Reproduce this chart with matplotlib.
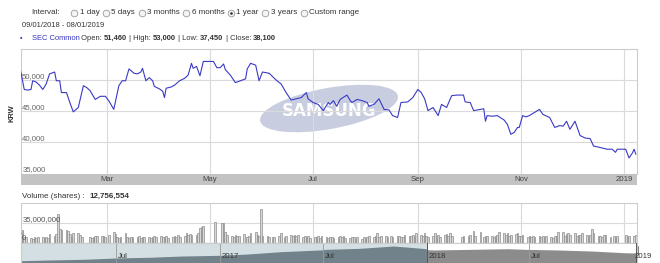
import matplotlib
matplotlib.use('Agg')
import matplotlib.pyplot as plt
import pandas as pd
import numpy as np
from matplotlib.patches import Ellipse, Rectangle

plt.rcParams['font.family'] = ['Liberation Sans', 'DejaVu Sans']

# ---------------- data ----------------
price_dates = [
    '2018-01-09', '2018-01-11', '2018-01-13', '2018-01-15', '2018-01-16', '2018-01-18', '2018-01-20',
    '2018-01-22', '2018-01-24', '2018-01-26', '2018-01-29', '2018-01-30', '2018-02-01', '2018-02-02',
    '2018-02-05', '2018-02-07', '2018-02-09', '2018-02-12', '2018-02-15', '2018-02-17', '2018-02-19',
    '2018-02-22', '2018-02-25', '2018-02-28', '2018-03-02', '2018-03-05', '2018-03-08', '2018-03-10',
    '2018-03-12', '2018-03-14', '2018-03-17', '2018-03-19', '2018-03-21', '2018-03-22', '2018-03-24',
    '2018-03-26', '2018-03-28', '2018-03-29', '2018-04-01', '2018-04-03', '2018-04-04', '2018-04-05',
    '2018-04-08', '2018-04-10', '2018-04-13', '2018-04-16', '2018-04-18', '2018-04-20', '2018-04-21',
    '2018-04-23', '2018-04-25', '2018-04-27', '2018-05-01', '2018-05-03', '2018-05-05', '2018-05-07',
    '2018-05-09', '2018-05-10', '2018-05-13', '2018-05-16', '2018-05-19', '2018-05-22', '2018-05-23',
    '2018-05-25', '2018-05-28', '2018-05-30', '2018-06-01', '2018-06-05', '2018-06-08', '2018-06-10',
    '2018-06-12', '2018-06-15', '2018-06-18', '2018-06-21', '2018-06-24', '2018-06-27', '2018-06-28',
    '2018-07-01', '2018-07-04', '2018-07-07', '2018-07-10', '2018-07-11', '2018-07-13', '2018-07-15',
    '2018-07-17', '2018-07-21', '2018-07-23', '2018-07-24', '2018-07-27', '2018-07-30', '2018-08-02',
    '2018-08-03', '2018-08-06', '2018-08-08', '2018-08-09', '2018-08-12', '2018-08-15', '2018-08-17',
    '2018-08-20', '2018-08-22', '2018-08-26', '2018-08-29', '2018-09-01', '2018-09-03', '2018-09-05',
    '2018-09-07', '2018-09-10', '2018-09-13', '2018-09-15', '2018-09-18', '2018-09-21', '2018-09-24',
    '2018-09-28', '2018-09-29', '2018-10-02', '2018-10-04', '2018-10-08', '2018-10-10', '2018-10-11',
    '2018-10-12', '2018-10-15', '2018-10-18', '2018-10-22', '2018-10-24', '2018-10-26', '2018-10-28',
    '2018-10-30', '2018-10-31', '2018-11-02', '2018-11-04', '2018-11-06', '2018-11-09', '2018-11-12',
    '2018-11-14', '2018-11-18', '2018-11-21', '2018-11-24', '2018-11-26', '2018-11-28', '2018-11-30',
    '2018-12-03', '2018-12-06', '2018-12-09', '2018-12-12', '2018-12-14', '2018-12-16', '2018-12-19',
    '2018-12-22', '2018-12-25', '2018-12-27', '2018-12-28', '2019-01-02', '2019-01-04', '2019-01-06',
    '2019-01-07', '2019-01-08']
price_values = [
    51300, 48500, 48400, 48500, 49900, 49700, 49200,
    48500, 49400, 51000, 51300, 49900, 49900, 48000,
    48000, 46400, 44900, 45600, 49100, 48800, 48300,
    46900, 47400, 47400, 46700, 45300, 49100, 49900,
    49900, 51800, 51100, 51000, 51300, 51900, 49900,
    50400, 49900, 49000, 48600, 48200, 47200, 48700,
    48900, 49200, 49900, 50300, 50800, 52700, 51900,
    52200, 50700, 53000, 53000, 53000, 52000, 52000,
    52600, 51700, 50800, 49600, 49900, 50200, 51800,
    52700, 52400, 49900, 51300, 51100, 50300, 49800,
    49400, 48000, 46800, 47000, 47200, 48000, 47000,
    46400, 46100, 45100, 46400, 46100, 46700, 45800,
    46900, 47600, 46700, 46400, 46900, 46700, 46400,
    45800, 46100, 46700, 47000, 45300, 45200, 44300,
    44000, 46400, 46500, 47200, 48500, 48000, 47000,
    45100, 45600, 44300, 46100, 45600, 47500, 47600,
    47600, 46500, 46400, 45100, 45300, 45400, 43400,
    44300, 44200, 44300, 43600, 42900, 41300, 41600,
    42400, 42400, 44300, 44100, 44300, 44800, 45300,
    44500, 44000, 42400, 42700, 42600, 43400, 42100,
    43400, 41100, 40700, 40600, 39400, 39300, 39100,
    38900, 38900, 38400, 38900, 38900, 37500, 38300,
    38900, 38100]

# daily volume (millions of shares), business days from 2018-01-08, 5 per week
volume_start = '2018-01-08'
volume_m = [
    15, 16, 23, 10, 9,   8, 7, 9, 8, 9,   9, 8, 10, 8, 15,   12, 15, 50, 24, 22,
    22, 20, 15, 10, 16,  16, 14, 9, 0, 0,  9, 8, 9, 11, 12,   12, 11, 9, 0, 14,
    18, 15, 9, 8, 10,    16, 9, 8, 10, 9,  9, 11, 8, 10, 9,   10, 8, 9, 12, 9,
    12, 9, 10, 11, 8,    10, 12, 9, 14, 10, 11, 17, 13, 15, 14, 14, 16, 26, 28, 30,
    0, 0, 0, 0, 36,      0, 35, 34, 18, 13, 12, 10, 14, 11, 12, 15, 0, 10, 12, 16,
    18, 14, 11, 60, 12,  11, 10, 0, 9, 10, 12, 17, 0, 10, 12,  13, 12, 14, 11, 13,
    10, 12, 9, 11, 8,    9, 10, 12, 8, 11, 9, 8, 10, 9, 8,     10, 11, 9, 12, 8,
    8, 9, 10, 7, 9,      7, 9, 8, 10, 11, 9, 12, 16, 10, 11,   12, 10, 0, 11, 10,
    11, 12, 9, 10, 13,   12, 11, 14, 10, 16, 14, 12, 17, 11, 10, 12, 17, 11, 13, 10,
    13, 15, 12, 16, 11,  0, 0, 0, 10, 12,  11, 13, 0, 20, 12,  18, 0, 9, 12, 11,
    11, 10, 12, 14, 19,  16, 13, 17, 12, 14, 15, 16, 12, 11, 13, 10, 12, 9, 11, 10,
    11, 10, 12, 9, 11,   9, 8, 11, 12, 18, 18, 12, 15, 17, 13,  17, 12, 14, 13, 16,
    13, 11, 14, 24, 17,  12, 11, 10, 13, 14, 10, 0, 11, 9, 12,  0, 0, 13, 9, 11,
    12, 12.756554]

nav_dates = ['2016-01-15', '2016-03-06', '2016-05-03', '2016-07-01', '2016-08-28', '2016-10-25',
             '2017-01-01', '2017-02-19', '2017-04-18', '2017-06-27', '2017-07-09', '2017-09-05',
             '2017-11-03', '2017-12-02', '2017-12-31', '2018-01-01', '2018-01-13', '2018-03-25',
             '2018-05-24', '2018-06-24', '2018-08-21', '2018-10-20', '2018-12-17', '2019-01-08']
nav_values = [24000, 25300, 26500, 28900, 30200, 32500,
              33800, 36200, 40400, 43500, 44700, 46500,
              50700, 48400, 45800, 44000, 43500, 44700,
              45800, 44700, 43500, 41600, 38500, 38000]

month_ticks = ['2018-03-01', '2018-05-01', '2018-07-01', '2018-09-01', '2018-11-01', '2019-01-01']
month_labels = ['Mar', 'May', 'Jul', 'Sep', 'Nov', '2019']
price_ticks = [35000, 40000, 45000, 50000]
nav_ticks = ['2016-07-01', '2017-01-01', '2017-07-01', '2018-01-01', '2018-07-01', '2019-01-01']
nav_labels = ['Jul', '2017', 'Jul', '2018', 'Jul', '2019']
intervals = ['1 day', '5 days', '3 months', '6 months', '1 year', '3 years', 'Custom range']
selected_interval = '1 year'
stats = [('Open', '51,460'), ('High', '53,000'), ('Low', '37,450'), ('Close', '38,100')]
last_volume = '12,756,554'

# ---------------- figure ----------------
W, H = 660, 263
fig = plt.figure(figsize=(6.6, 2.63), dpi=100)


def fa(x0, y0, x1, y1):
    return [x0 / W, 1 - y1 / H, (x1 - x0) / W, (y1 - y0) / H]


X0 = pd.Timestamp('2018-01-09 02:00')
X1 = pd.Timestamp('2019-01-08 17:00')
GRID = '#dadada'
FRAME = '#cccccc'
TXT = '#333333'
FS = 5.6

ov = fig.add_axes([0, 0, 1, 1])
ov.set_xlim(0, W)
ov.set_ylim(H, 0)
ov.axis('off')
ov.patch.set_visible(False)

# ---- price panel
pd_dates = pd.to_datetime(price_dates)
ax = fig.add_axes(fa(21, 49, 637, 173.5))
ax.plot(pd_dates, price_values, color='#3a3ac6', lw=0.8, zorder=3)
ax.set_xlim(X0, X1)
ax.set_ylim(35000, 55000)
ax.set_yticks(price_ticks)
ax.set_xticks(pd.to_datetime(month_ticks))
ax.grid(True, color=GRID, lw=0.8, zorder=1.5)
ax.tick_params(length=0, labelleft=False, labelbottom=False)
for s in ax.spines.values():
    s.set_color(FRAME)
    s.set_linewidth(0.8)
ax.spines['bottom'].set_visible(False)
for v in price_ticks:
    ax.text(0.002, v + 330, f'{v:,}', transform=ax.get_yaxis_transform(), ha='left',
            va='baseline', fontsize=FS, color='#666666', zorder=2)

# Samsung watermark
logo = Ellipse((329, 108.5), 140, 41, angle=-10.3, facecolor='#c9cde0', edgecolor='none',
               transform=ov.transData, zorder=0.8)
ax.add_artist(logo)
ax.text(329, 111.5, 'SAMSUNG', transform=ov.transData, ha='center', va='center',
        fontsize=12, fontweight='bold', family='DejaVu Sans', color='white', zorder=0.9)

# x-axis band
axb = fig.add_axes(fa(21, 173.5, 637, 185))
axb.set_facecolor('#c3c3c3')
axb.set_xlim(X0, X1)
axb.set_ylim(0, 1)
axb.set_xticks([])
axb.set_yticks([])
for s in axb.spines.values():
    s.set_visible(False)
for d, lab in zip(pd.to_datetime(month_ticks), month_labels):
    axb.text(d, 0.45, lab, ha='center', va='center', fontsize=FS, color='#444444')

# ---- volume panel
vdates = pd.bdate_range(volume_start, periods=len(volume_m))
axv = fig.add_axes(fa(21, 203, 637, 242.5))
axv.bar(vdates, np.array(volume_m) * 1e6, width=1.0, color='#d6d6d6', edgecolor='#8e8e8e',
        linewidth=0.5, zorder=3)
axv.set_xlim(X0, X1)
axv.set_ylim(0, 70e6)
axv.set_yticks([0, 35e6])
axv.set_xticks(pd.to_datetime(month_ticks))
axv.grid(True, color=GRID, lw=0.8, zorder=1.5)
axv.tick_params(length=0, labelleft=False, labelbottom=False)
for s in axv.spines.values():
    s.set_color(FRAME)
    s.set_linewidth(0.8)
axv.text(0.002, 35e6 + 2.3e6, '35,000,000', transform=axv.get_yaxis_transform(), ha='left',
         va='baseline', fontsize=FS, color='#555555', zorder=4)
axv.text(0.002, 0 + 5e6, '0', transform=axv.get_yaxis_transform(), ha='left',
         va='baseline', fontsize=FS, color='#555555', zorder=4)

# ---- navigator
nd = pd.to_datetime(nav_dates)
nv = np.array(nav_values)
split = pd.Timestamp('2018-01-01')
NX0 = pd.Timestamp('2016-01-14')
NX1 = pd.Timestamp('2019-01-08 12:00')
axn = fig.add_axes(fa(21, 243, 637, 263))
axn.set_xlim(NX0, NX1)
axn.set_ylim(19800, 56200)
axn.axvspan(NX0, split, color='#d3dfe2', zorder=0, lw=0)
axn.fill_between(nd, nv, 0, where=nd <= split, color='#71828a', lw=0, zorder=1)
axn.fill_between(nd, nv, 0, where=nd >= split, color='#8c8c8c', lw=0, zorder=1)
axn.set_xticks([])
axn.set_yticks([])
for s in axn.spines.values():
    s.set_color(FRAME)
    s.set_linewidth(0.8)
axn.spines['bottom'].set_visible(False)
for d, lab in zip(pd.to_datetime(nav_ticks), nav_labels):
    if lab != '2019':
        axn.axvline(d, color='#9a9a9a', lw=0.6, zorder=2)
    axn.text(d + pd.Timedelta(days=3), 0.3, lab, transform=axn.get_xaxis_transform(),
             ha='left', va='center', fontsize=FS, color='#333333', zorder=4, clip_on=False)
# handles
for d in [split, NX1 - pd.Timedelta(days=1)]:
    axn.axvline(d, color='#555555', lw=0.7, zorder=3)
    xd = axn.transData.transform((matplotlib.dates.date2num(d), 0))[0]
    xp = xd / fig.dpi * 100
    ov.add_patch(Rectangle((xp - 2, 246), 4, 8, facecolor='white', edgecolor='#666666',
                           lw=0.6, zorder=5))

# ---------------- header ----------------
renderer = fig.canvas.get_renderer()


def put(x, y, s, **kw):
    kw.setdefault('fontsize', 5.8)
    kw.setdefault('color', TXT)
    t = ov.text(x, y, s, ha='left', va='center', **kw)
    bb = t.get_window_extent(renderer=renderer)
    return x + bb.width


put(31, 12.5, 'Interval:')
cx = 74
for lab in intervals:
    ov.plot([cx], [12.5], 'o', ms=4.8, mfc='#f4f4f4', mec='#9a9a9a', mew=0.6)
    if lab == selected_interval:
        ov.plot([cx], [12.5], 'o', ms=1.9, mfc='#333333', mec='#333333', mew=0)
    end = put(cx + 5.5, 12.5, lab)
    cx = end + 6.5

put(22, 25.5, '09/01/2018 - 08/01/2019', fontsize=5.4)

ov.text(21, 38.5, '\u2022', ha='center', va='center', fontsize=5.4, color='#3333bb')
x = put(31.5, 38.5, 'SEC Common', fontsize=5.4, color='#3333bb')
for i, (k, v) in enumerate(stats):
    pre = (' ' if i == 0 else ' | ') + k + ': '
    x = put(x, 38.5, pre, fontsize=5.4)
    x = put(x, 38.5, v, fontsize=5.4, fontweight='bold')

x = put(22, 196, 'Volume (shares) :  ', fontsize=5.8)
put(x, 196, last_volume, fontsize=5.8, fontweight='bold')

ov.text(11.5, 113, 'KRW', rotation=90, ha='center', va='center', fontsize=5.4,
        fontweight='bold', color=TXT)

fig.savefig('out.png', dpi=100)
